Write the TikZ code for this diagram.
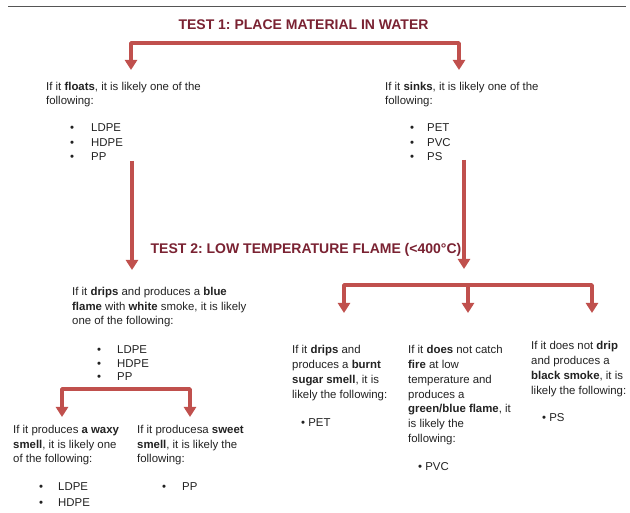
\documentclass[tikz,border=0pt]{standalone}
\usepackage{fontspec}
\setmainfont{Liberation Sans}
\usetikzlibrary{arrows.meta}
\definecolor{arrowred}{HTML}{C0504D}
\definecolor{titlered}{HTML}{7A2232}
\definecolor{txt}{HTML}{222222}
\definecolor{rulegray}{HTML}{555555}
\frenchspacing
\begin{document}
\begin{tikzpicture}[x=1pt,y=-1pt,
  conn/.style={draw=arrowred, line width=3.5pt, line join=round, -{Triangle[width=12pt,length=10pt]}},
  bconn/.style={draw=arrowred, line width=3.5pt, line join=round, {Triangle[width=12pt,length=10pt]}-{Triangle[width=12pt,length=10pt]}},
  title/.style={font=\fontsize{14}{16}\selectfont\bfseries, text=titlered, inner sep=0pt},
  body/.style={font=\fontsize{11.4}{14.5}\selectfont, text=txt, inner sep=0pt, align=left, anchor=north west},
  bodyb/.style={body, font=\fontsize{11.4}{15}\selectfont},
  bodyc/.style={body, font=\fontsize{11.4}{13.5}\selectfont},
  ]
\fill[white] (0,0) rectangle (630,513);
\useasboundingbox (0,0) rectangle (630,513);

% top rule
\coordinate (ruleL) at (8,7);
\coordinate (ruleR) at (626,7);
\draw[rulegray, line width=1pt] (ruleL) -- (ruleR);

% titles
\node[title] (t1) at (303.5,25) {TEST 1: PLACE MATERIAL IN WATER};
\node[title] (t2) at (306,250) {TEST 2: LOW TEMPERATURE FLAME (<400°C)};

% level 1 texts
\node[bodyc] (A) at (46,82.5) {If it \textbf{floats}, it is likely one of the\\following:};
\node[body] (Alist) at (70,123.5) {\makebox[21pt][l]{•}LDPE\\\makebox[21pt][l]{•}HDPE\\\makebox[21pt][l]{•}PP};
\node[bodyc] (B) at (385,82.5) {If it \textbf{sinks}, it is likely one of the\\following:};
\node[body] (Blist) at (410,123.5) {\makebox[17pt][l]{•}PET\\\makebox[17pt][l]{•}PVC\\\makebox[17pt][l]{•}PS};

% level 2 left
\node[body] (C) at (72,287.5) {If it \textbf{drips} and produces a \textbf{blue}\\\textbf{flame} with \textbf{white} smoke, it is likely\\one of the following:};
\node[body, font=\fontsize{11.4}{13.5}\selectfont] (Clist) at (97,345.5) {\makebox[20pt][l]{•}LDPE\\\makebox[20pt][l]{•}HDPE\\\makebox[20pt][l]{•}PP};

\node[body] (D) at (13,425.5) {If it produces \textbf{a waxy}\\\textbf{smell}, it is likely one\\of the following:};
\node[body, font=\fontsize{11.4}{16}\selectfont] (Dlist) at (39,482.5) {\makebox[19pt][l]{•}LDPE\\\makebox[19pt][l]{•}HDPE};
\node[body] (E) at (137,425.5) {If it producesa \textbf{sweet}\\\textbf{smell}, it is likely the\\following:};
\node[body] (Elist) at (162,482.5) {\makebox[20pt][l]{•}PP};

% level 2 right
\node[bodyb] (F) at (292,345.5) {If it \textbf{drips} and\\produces a \textbf{burnt}\\\textbf{sugar smell}, it is\\likely the following:};
\node[body] (Flist) at (301,418.5) {• PET};
\node[body, font=\fontsize{11.4}{14.7}\selectfont] (G) at (408,345.5) {If it \textbf{does} not catch\\\textbf{fire} at low\\temperature and\\produces a\\\textbf{green/blue flame}, it\\is likely the\\following:};
\node[body] (Glist) at (418,462.5) {• PVC};
\node[bodyb] (H) at (531,341.5) {If it does not \textbf{drip}\\and produces a\\\textbf{black smoke}, it is\\likely the following:};
\node[body] (Hlist) at (542,413.5) {• PS};

% connectors: test 1 bracket
\coordinate (aTip) at (131,70);
\coordinate (bTip) at (459,70);
\coordinate (j1L) at (131,43);
\coordinate (j1R) at (459,43);
\draw[bconn] (aTip) -- (j1L) -- (j1R) -- (bTip);

% vertical arrows into test 2
\coordinate (aOut) at (132,161);
\coordinate (aIn) at (132,270);
\draw[conn] (aOut) -- (aIn);
\coordinate (bOut) at (464,160);
\coordinate (bIn) at (464,269);
\draw[conn] (bOut) -- (bIn);

% three-way bracket
\coordinate (fTip) at (344,313);
\coordinate (gTip) at (468,313);
\coordinate (hTip) at (592,313);
\coordinate (j2L) at (344,285);
\coordinate (j2M) at (468,285);
\coordinate (j2R) at (592,285);
\draw[bconn] (fTip) -- (j2L) -- (j2R) -- (hTip);
\draw[conn] (j2M) -- (gTip);

% lower-left bracket
\coordinate (dTip) at (62,417);
\coordinate (eTip) at (190,417);
\coordinate (j3L) at (62,389);
\coordinate (j3R) at (190,389);
\draw[bconn] (dTip) -- (j3L) -- (j3R) -- (eTip);
\end{tikzpicture}
\end{document}
